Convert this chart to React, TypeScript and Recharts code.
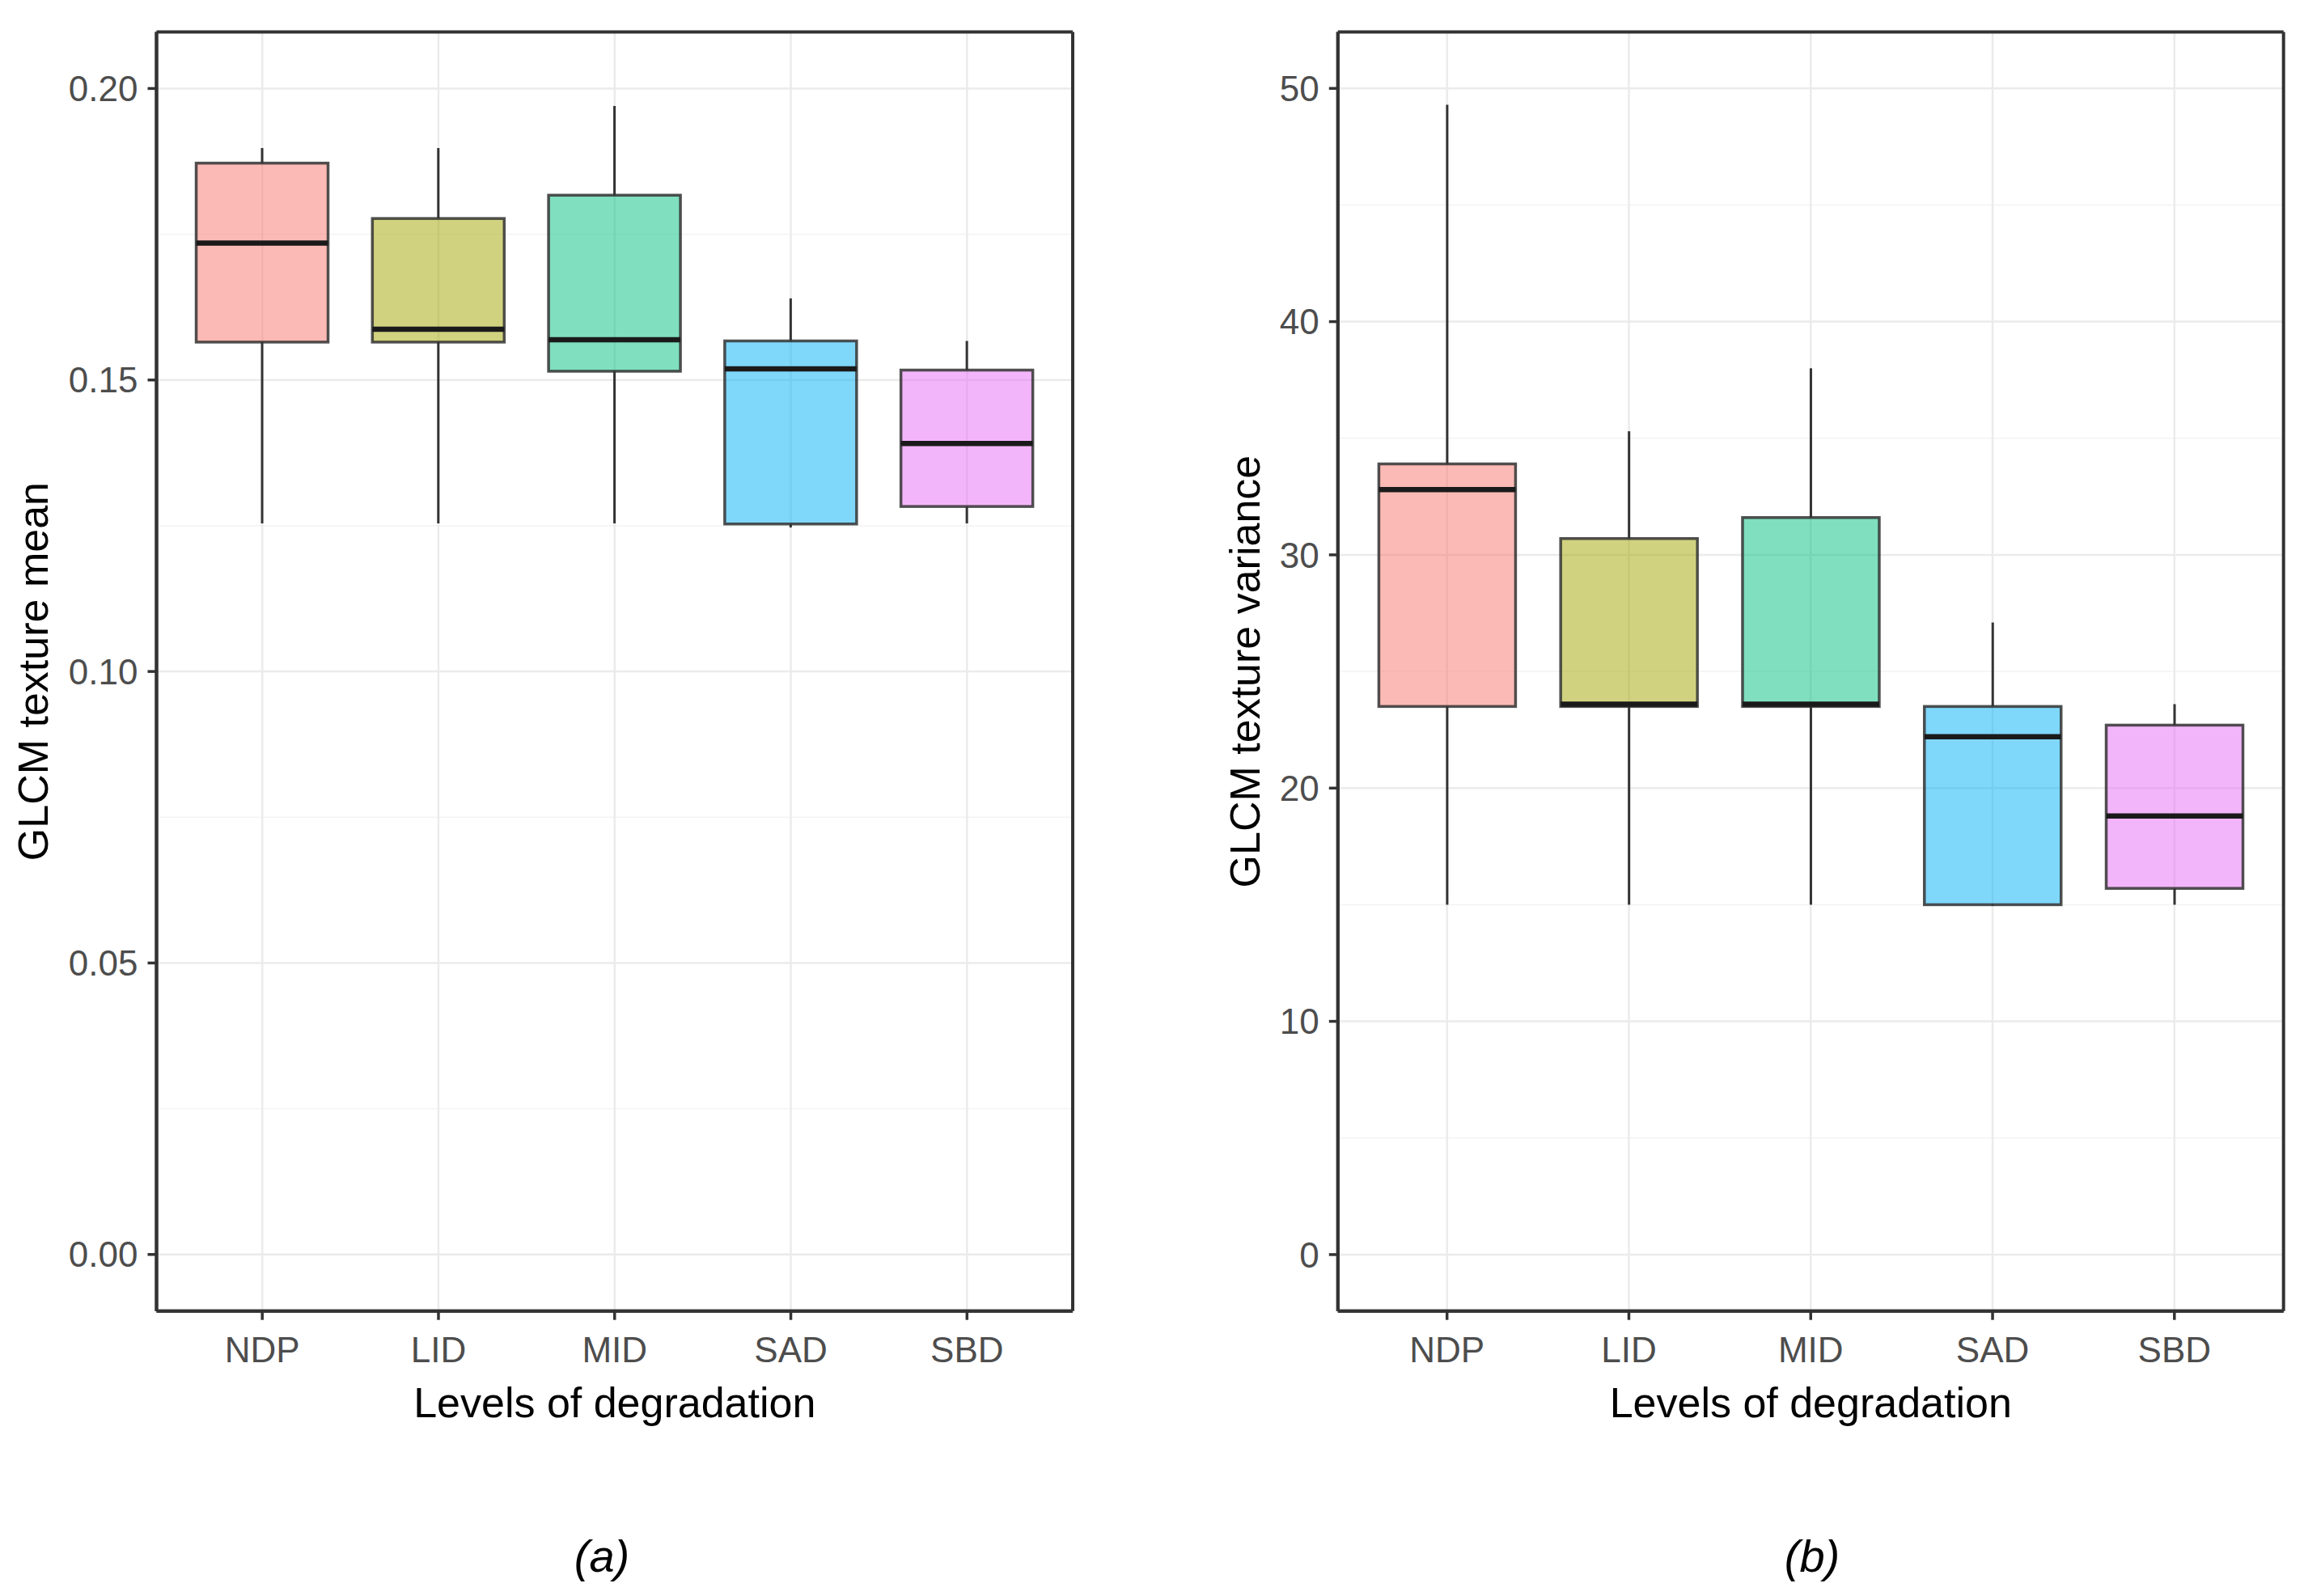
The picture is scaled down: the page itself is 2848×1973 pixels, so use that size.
import React from 'react';
import { ComposedChart, Bar, XAxis, YAxis, CartesianGrid } from 'recharts';

const FONT = '"Liberation Sans", Arial, sans-serif';

const categories = ['NDP', 'LID', 'MID', 'SAD', 'SBD'];
const fills = ['#F8766D', '#A3A500', '#00BF7D', '#00B0F6', '#E76BF3'];

// (a) GLCM texture mean
const meanMin = [0.1254, 0.1254, 0.1254, 0.1247, 0.1254];
const meanQ1 = [0.1565, 0.1565, 0.1515, 0.1253, 0.1283];
const meanMedian = [0.1735, 0.1587, 0.1569, 0.1519, 0.1391];
const meanQ3 = [0.1872, 0.1777, 0.1817, 0.1567, 0.1517];
const meanMax = [0.1898, 0.1898, 0.197, 0.164, 0.1567];
const meanTicks = [0, 0.05, 0.1, 0.15, 0.2];
const meanMinor = [0.025, 0.075, 0.125, 0.175];

// (b) GLCM texture variance
const varMin = [15.0, 15.0, 15.0, 14.95, 15.0];
const varQ1 = [23.5, 23.5, 23.5, 15.0, 15.7];
const varMedian = [32.8, 23.6, 23.6, 22.2, 18.8];
const varQ3 = [33.9, 30.7, 31.6, 23.5, 22.7];
const varMax = [49.3, 35.3, 38.0, 27.1, 23.6];
const varTicks = [0, 10, 20, 30, 40, 50];
const varMinor = [5, 15, 25, 35, 45];

const buildRows = (min: number[], q1: number[], med: number[], q3: number[], max: number[]) =>
  categories.map((name, i) => ({
    name,
    min: min[i],
    q1: q1[i],
    median: med[i],
    q3: q3[i],
    max: max[i],
    color: fills[i],
    range: [min[i], max[i]],
  }));

const meanRows = buildRows(meanMin, meanQ1, meanMedian, meanQ3, meanMax);
const varRows = buildRows(varMin, varQ1, varMedian, varQ3, varMax);

// one ranged bar per category (min..max); box, whiskers and median are placed inside it
function BoxShape(props: any) {
  const { x, y, width, height, payload } = props;
  const top = Math.min(y, y + height);
  const bottom = Math.max(y, y + height);
  const span = payload.max - payload.min;
  const toPx = (v: number) => (span === 0 ? top : top + ((payload.max - v) / span) * (bottom - top));
  const cx = x + width / 2;
  const yq3 = toPx(payload.q3);
  const yq1 = toPx(payload.q1);
  const ymed = toPx(payload.median);
  return (
    <g>
      <line x1={cx} x2={cx} y1={top} y2={yq3} stroke="#333333" strokeWidth={3} />
      <line x1={cx} x2={cx} y1={yq1} y2={bottom} stroke="#333333" strokeWidth={3} />
      <rect
        x={x}
        y={yq3}
        width={width}
        height={Math.max(yq1 - yq3, 0)}
        fill={payload.color}
        fillOpacity={0.5}
        stroke="#333333"
        strokeOpacity={0.85}
        strokeWidth={3.5}
      />
      <line x1={x} x2={x + width} y1={ymed} y2={ymed} stroke="#1A1A1A" strokeWidth={6.5} />
    </g>
  );
}

// panel border = grid lines on the edges of the plot area
const edgeRows = ({ offset }: any) => [offset.top, offset.top + offset.height];
const edgeCols = ({ offset }: any) => [offset.left, offset.left + offset.width];

interface PanelProps {
  rows: any[];
  domain: [number, number];
  ticks: number[];
  minor: number[];
  fmt: (v: number) => string;
  yTitle: string;
  yTitleOffset: number;
  marginLeft: number;
  marginRight: number;
  padding: number;
}

function Panel({ rows, domain, ticks, minor, fmt, yTitle, yTitleOffset, marginLeft, marginRight, padding }: PanelProps) {
  const axisLine = { stroke: '#333333', strokeWidth: 4 };
  return (
    <ComposedChart
      width={1424}
      height={1973}
      data={rows}
      margin={{ top: 39.5, right: marginRight, bottom: 212.3, left: marginLeft }}
      barCategoryGap="12.5%"
    >
      <CartesianGrid yAxisId="minor" vertical={false} stroke="#F3F3F3" strokeWidth={1.5} />
      <CartesianGrid stroke="#EBEBEB" strokeWidth={2.5} />
      <CartesianGrid
        stroke="#333333"
        strokeWidth={4}
        horizontalCoordinatesGenerator={edgeRows}
        verticalCoordinatesGenerator={edgeCols}
      />
      <XAxis
        dataKey="name"
        type="category"
        padding={{ left: padding, right: padding }}
        height={140}
        tickSize={11}
        tickMargin={21}
        tickLine={{ stroke: '#333333', strokeWidth: 3.5 }}
        axisLine={axisLine}
        tick={{ fill: '#4D4D4D', fontSize: 44, fontFamily: FONT }}
        label={(p: any) => {
          const vb = p.viewBox;
          return (
            <text x={vb.x + vb.width / 2} y={vb.y + 131} textAnchor="middle" fontSize={52} fontFamily={FONT} fill="#000">
              Levels of degradation
            </text>
          );
        }}
      />
      <YAxis
        type="number"
        domain={domain}
        ticks={ticks}
        allowDataOverflow
        width={150}
        tickSize={11}
        tickMargin={12}
        tickFormatter={fmt}
        tickLine={{ stroke: '#333333', strokeWidth: 3.5 }}
        axisLine={axisLine}
        tick={{ fill: '#4D4D4D', fontSize: 44, fontFamily: FONT }}
        label={(p: any) => {
          const vb = p.viewBox;
          const tx = vb.x + vb.width - yTitleOffset;
          const ty = vb.y + vb.height / 2;
          return (
            <text x={tx} y={ty} transform={`rotate(-90 ${tx} ${ty})`} textAnchor="middle" fontSize={52} fontFamily={FONT} fill="#000">
              {yTitle}
            </text>
          );
        }}
      />
      <YAxis yAxisId="minor" hide type="number" domain={domain} ticks={minor} allowDataOverflow />
      <Bar dataKey="range" shape={BoxShape} isAnimationActive={false} />
    </ComposedChart>
  );
}

export default function App() {
  return (
    <div style={{ position: 'absolute', left: 0, top: 0, width: 2848, height: 1973, background: '#fff' }}>
      <div style={{ display: 'flex' }}>
        <Panel
          rows={meanRows}
          domain={[-0.0097, 0.2097]}
          ticks={meanTicks}
          minor={meanMinor}
          fmt={(v) => v.toFixed(2)}
          yTitle="GLCM texture mean"
          yTitleOffset={134.5}
          marginLeft={43.5}
          marginRight={98}
          padding={21.8}
        />
        <Panel
          rows={varRows}
          domain={[-2.42, 52.42]}
          ticks={varTicks}
          minor={varMinor}
          fmt={(v) => String(v)}
          yTitle="GLCM texture variance"
          yTitleOffset={97}
          marginLeft={79.8}
          marginRight={25.3}
          padding={22.5}
        />
      </div>
      <svg width={2848} height={1973} style={{ position: 'absolute', left: 0, top: 0, pointerEvents: 'none' }}>
        <text x={744} y={1943} textAnchor="middle" fontSize={56} fontStyle="italic" fontFamily={FONT} fill="#000">
          (a)
        </text>
        <text x={2240} y={1943} textAnchor="middle" fontSize={56} fontStyle="italic" fontFamily={FONT} fill="#000">
          (b)
        </text>
      </svg>
    </div>
  );
}
